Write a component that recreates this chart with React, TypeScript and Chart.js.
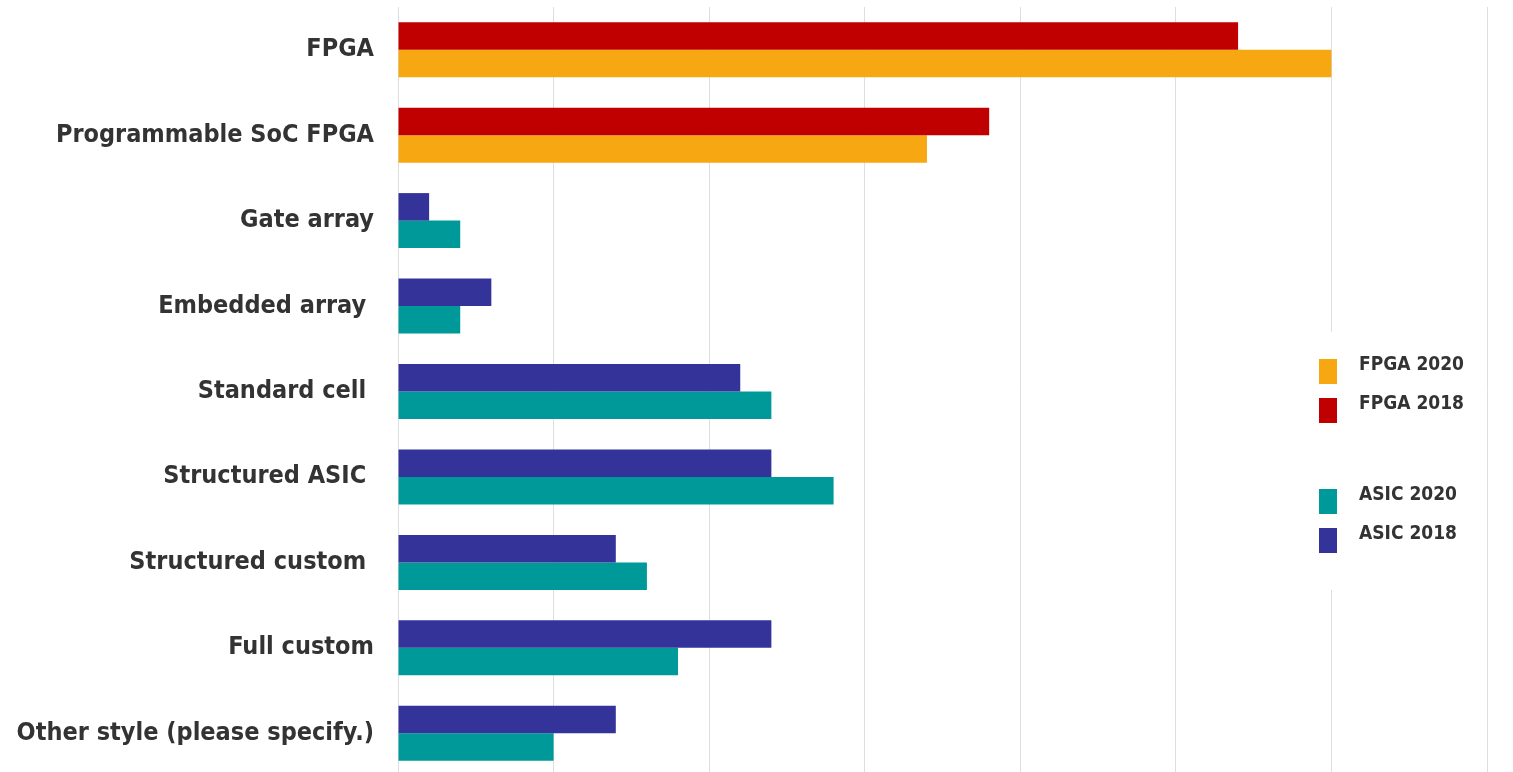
import React, { useEffect, useRef } from "react";
import { Chart, registerables } from "chart.js";

Chart.register(...registerables);

const categories = [
  "FPGA",
  "Programmable SoC FPGA",
  "Gate array",
  "Embedded array ",
  "Standard cell ",
  "Structured ASIC ",
  "Structured custom ",
  "Full custom",
  "Other style (please specify.)",
];
const values2018 = [54, 38, 2, 6, 22, 24, 14, 24, 14];
const values2020 = [60, 34, 4, 4, 24, 28, 16, 18, 10];
const isFpga = [true, true, false, false, false, false, false, false, false];

const legendLabels = ["FPGA 2020", "FPGA 2018", "ASIC 2020", "ASIC 2018"];

const COLOR_FPGA_2018 = "#C00000";
const COLOR_FPGA_2020 = "#F7A711";
const COLOR_ASIC_2018 = "#333399";
const COLOR_ASIC_2020 = "#009999";
const legendColors = [COLOR_FPGA_2020, COLOR_FPGA_2018, COLOR_ASIC_2020, COLOR_ASIC_2018];

const FONT = "'DejaVu Sans Condensed', 'DejaVu Sans', Verdana, sans-serif";
const TEXT_COLOR = "#333333";
const GRID_COLOR = "#dedede";

// legend layout (pixels)
const LEGEND_BOX = { x: 1300, y: 332, w: 178, h: 258 };
const LEGEND_SWATCH_X = 1319;
const LEGEND_SWATCH_TOPS = [359, 398, 489, 528];
const LEGEND_TEXT_X = 1359;

const sideLegend = {
  id: "sideLegend",
  afterDraw(chart: any) {
    const ctx = chart.ctx as CanvasRenderingContext2D;
    ctx.save();
    ctx.fillStyle = "#ffffff";
    ctx.fillRect(LEGEND_BOX.x, LEGEND_BOX.y, LEGEND_BOX.w, LEGEND_BOX.h);
    ctx.font = `bold 19px ${FONT}`;
    ctx.textAlign = "left";
    ctx.textBaseline = "alphabetic";
    legendLabels.forEach((label, i) => {
      const top = LEGEND_SWATCH_TOPS[i];
      ctx.fillStyle = legendColors[i];
      ctx.fillRect(LEGEND_SWATCH_X, top, 18, 25);
      ctx.fillStyle = TEXT_COLOR;
      ctx.fillText(label, LEGEND_TEXT_X, top + 11);
    });
    ctx.restore();
  },
};

export default function App() {
  const canvasRef = useRef<HTMLCanvasElement | null>(null);

  useEffect(() => {
    document.documentElement.style.overflow = "hidden";
    document.body.style.overflow = "hidden";
    document.body.style.margin = "0";
    const canvas = canvasRef.current;
    if (!canvas) return;
    const chart = new Chart(canvas, {
      type: "bar",
      data: {
        labels: categories,
        datasets: [
          {
            label: "2018",
            data: values2018,
            backgroundColor: isFpga.map((f) => (f ? COLOR_FPGA_2018 : COLOR_ASIC_2018)),
            borderWidth: 0,
            categoryPercentage: 0.644,
            barPercentage: 1,
          },
          {
            label: "2020",
            data: values2020,
            backgroundColor: isFpga.map((f) => (f ? COLOR_FPGA_2020 : COLOR_ASIC_2020)),
            borderWidth: 0,
            categoryPercentage: 0.644,
            barPercentage: 1,
          },
        ],
      },
      options: {
        indexAxis: "y",
        animation: false,
        responsive: true,
        maintainAspectRatio: false,
        layout: { padding: { top: 7, right: 26, bottom: 0, left: 0 } },
        plugins: {
          legend: { display: false },
          tooltip: { enabled: false },
        },
        scales: {
          x: {
            min: 0,
            max: 70,
            ticks: { display: false, stepSize: 10 },
            grid: { color: GRID_COLOR, drawTicks: false, lineWidth: 1 },
            border: { display: false },
            afterFit: (scale: any) => {
              scale.height = 0;
              scale.paddingLeft = 0;
              scale.paddingRight = 0;
            },
          },
          y: {
            afterFit: (scale: any) => {
              scale.width = 398;
              scale.paddingTop = 0;
              scale.paddingBottom = 0;
            },
            ticks: {
              color: TEXT_COLOR,
              padding: 24,
              font: { family: FONT, size: 25, weight: "bold" },
            },
            grid: { display: false, drawTicks: false },
            border: { display: true, color: GRID_COLOR },
          },
        },
      },
      plugins: [sideLegend],
    });
    return () => chart.destroy();
  }, []);

  return (
    <div style={{ position: "absolute", left: 0, top: 0, width: 1513, height: 776, background: "#fff" }}>
      <canvas ref={canvasRef} />
    </div>
  );
}
